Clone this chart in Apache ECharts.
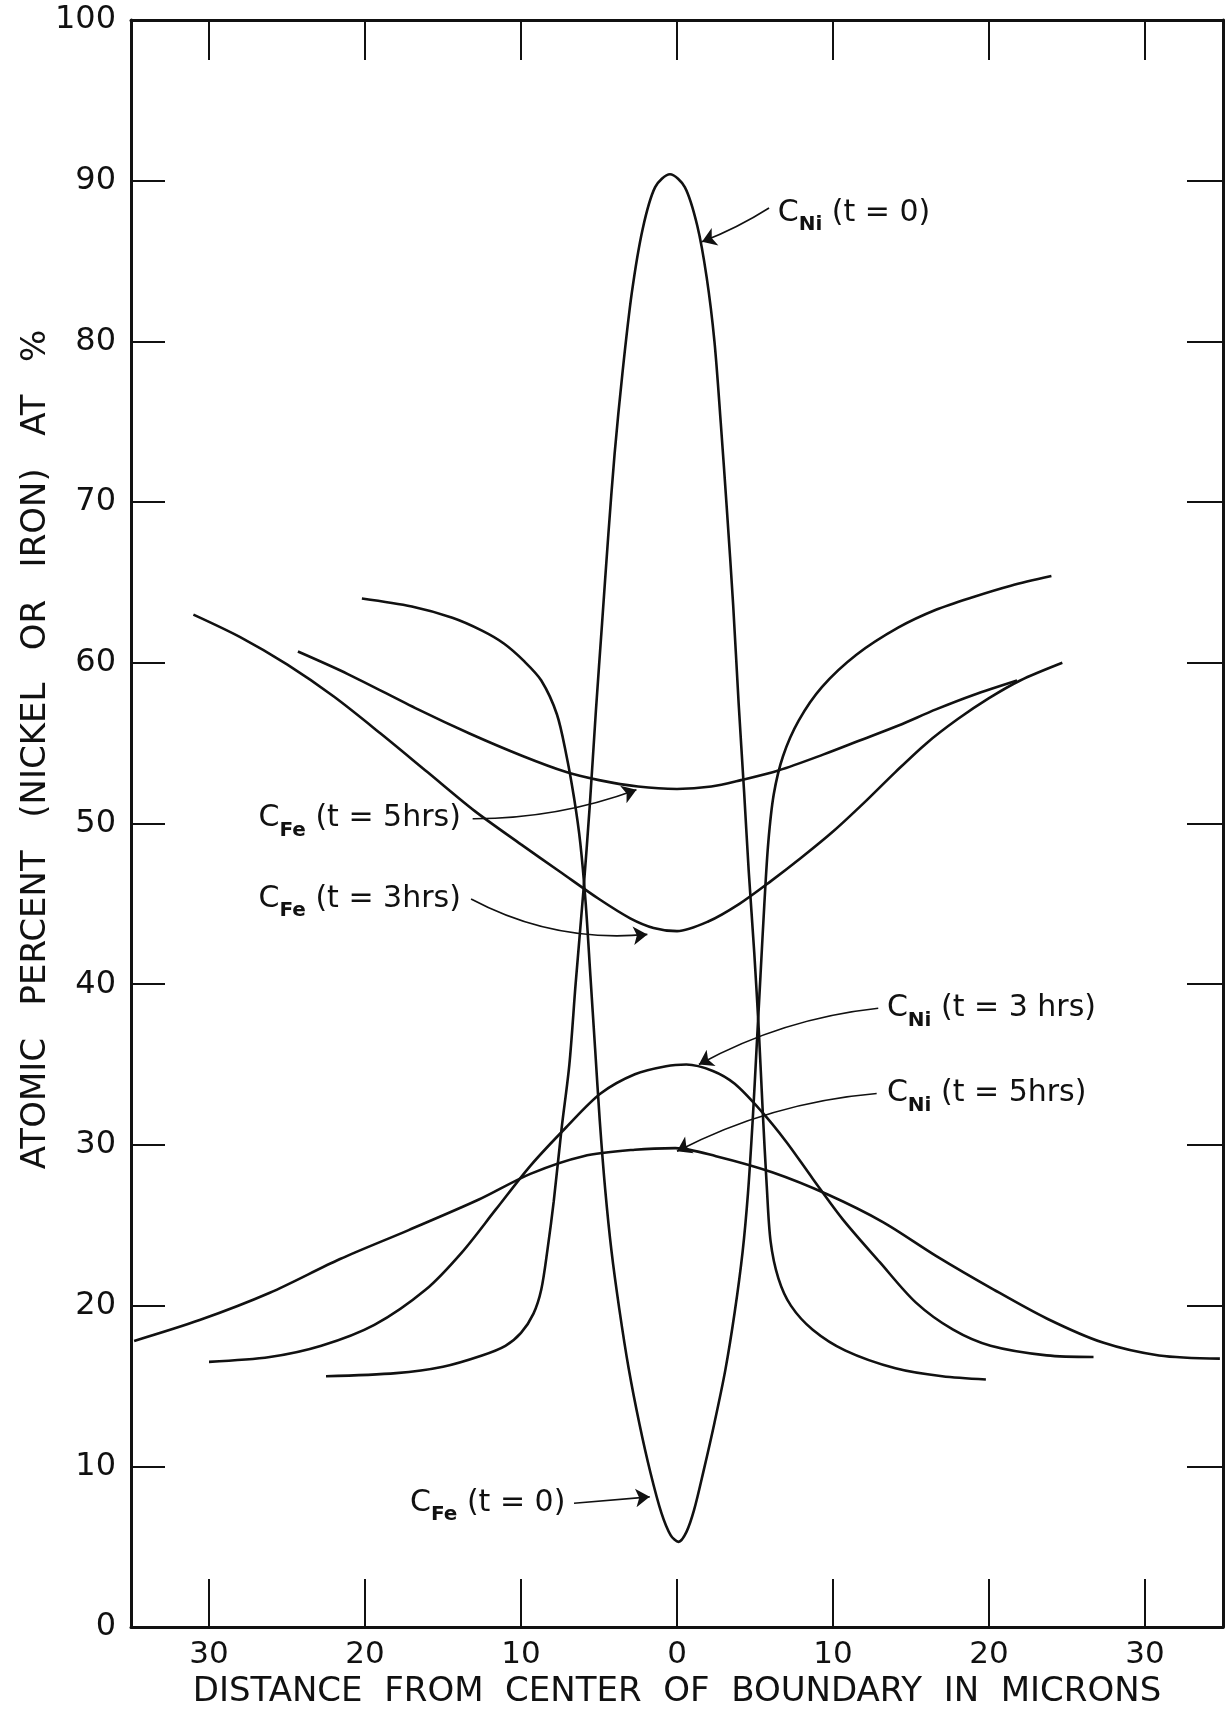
<!DOCTYPE html>
<html>
<head>
<meta charset="utf-8">
<script src="https://cdn.jsdelivr.net/npm/echarts@6/dist/echarts.min.js"></script>
<style>
  html, body { margin: 0; padding: 0; background: #fff; }
  #chart { width: 1225px; height: 1714px; }
</style>
</head>
<body>
<div id="chart"></div>
<script>
// concentration profiles, [distance in microns, atomic %]
var cNi0 = [[-22.5,15.6],[-18,15.8],[-15,16.2],[-12.5,16.9],[-11,17.5],[-10,18.3],[-9.2,19.5],[-8.7,21],[-8.3,23.5],[-7.9,26.5],[-7.4,31],[-6.9,35],[-6.5,40],[-6.0,45.8],[-5.6,51],[-5.2,57],[-4.8,62.5],[-4.4,68],[-4.0,73],[-3.5,78],[-2.9,83],[-2.2,87],[-1.4,89.6],[-0.45,90.4],[0.5,89.6],[1.3,87.2],[1.9,84],[2.4,80],[2.8,75],[3.2,69.5],[3.6,63.6],[3.95,57.5],[4.3,52],[4.6,47],[4.95,42],[5.25,37],[5.5,32],[5.75,27.5],[6.0,24],[6.5,21.7],[7.3,20.0],[8.7,18.5],[10.8,17.2],[14,16.1],[17,15.6],[19.8,15.4]];
var cFe0 = [[-20.2,64.0],[-17,63.5],[-14.4,62.8],[-12.5,62.0],[-11.1,61.2],[-9.8,60.1],[-8.7,58.9],[-7.7,56.8],[-7.1,54.3],[-6.6,51.6],[-6.2,48.8],[-5.85,45],[-5.55,40.5],[-5.25,36],[-4.95,31.5],[-4.6,27.2],[-4.2,23.4],[-3.7,19.8],[-3.1,16.1],[-2.4,12.6],[-1.7,9.6],[-1.0,7.1],[-0.4,5.7],[0.1,5.3],[0.6,5.9],[1.1,7.3],[1.7,9.7],[2.4,12.7],[3.1,16.0],[3.7,19.6],[4.2,23.3],[4.55,27],[4.85,31.5],[5.1,36],[5.35,40.5],[5.6,45],[5.85,48.8],[6.2,51.8],[6.8,54.2],[7.8,56.4],[9.3,58.5],[11.5,60.5],[14.2,62.2],[16.6,63.3],[19.0,64.1],[21.4,64.8],[24.0,65.4]];
var cFe3 = [[-31.0,63.0],[-28,61.6],[-25,59.9],[-22,57.9],[-19,55.6],[-16,53.2],[-13,50.8],[-10,48.7],[-7.5,47.0],[-5,45.3],[-3,44.1],[-1.5,43.5],[0,43.3],[2,43.9],[4,45.0],[6,46.4],[8,47.9],[10,49.5],[12,51.3],[14,53.2],[16,55.0],[18,56.5],[20,57.8],[22,58.9],[24.7,60.0]];
var cFe5 = [[-24.3,60.7],[-21.1,59.3],[-16.6,57.1],[-13.3,55.6],[-9.9,54.2],[-7.1,53.2],[-5.0,52.7],[-2.5,52.3],[0,52.15],[2.2,52.3],[4.1,52.7],[6.5,53.3],[9.4,54.3],[11.8,55.2],[14.2,56.1],[16.6,57.1],[19.0,58.0],[21.8,58.9]];
var cNi3 = [[-30.0,16.5],[-26.1,16.8],[-22.8,17.5],[-19.4,18.8],[-16.1,21.0],[-13.8,23.3],[-11.6,26.0],[-9.4,28.7],[-7.1,31.1],[-4.9,33.2],[-2.7,34.4],[-0.7,34.9],[0.6,35.0],[2.3,34.6],[3.7,33.8],[5.4,32.1],[7.0,30.2],[8.7,27.9],[10.6,25.4],[13.0,22.7],[15.3,20.2],[17.7,18.5],[20.1,17.5],[23.7,16.9],[26.7,16.8]];
var cNi5 = [[-34.8,17.8],[-30.6,19.1],[-26.1,20.8],[-21.6,22.9],[-17.2,24.7],[-12.7,26.6],[-9.4,28.2],[-6.0,29.3],[-2.7,29.7],[-0.1,29.8],[2.5,29.3],[6.1,28.3],[9.7,26.9],[13.2,25.2],[16.6,23.1],[20.3,21.0],[23.7,19.2],[27.3,17.7],[30.9,16.9],[34.8,16.7]];

var xTicks = [-30, -20, -10, 0, 10, 20, 30];

// label anchor, arrow start, arrow tip, arrow bend
var lblNi0 = {at: [6.2, 88.0], from: [5.9, 88.3], to: [1.6, 86.2], bend: 0.05, side: 'right', el: 'Ni', t: '(t = 0)'};
var lblFe5 = {at: [-13.6, 50.3], from: [-13.1, 50.3], to: [-2.6, 52.1], bend: -0.09, side: 'left', el: 'Fe', t: '(t = 5hrs)'};
var lblFe3 = {at: [-13.6, 45.3], from: [-13.2, 45.3], to: [-1.9, 43.1], bend: -0.15, side: 'left', el: 'Fe', t: '(t = 3hrs)'};
var lblNi3 = {at: [13.2, 38.5], from: [12.9, 38.5], to: [1.4, 35.0], bend: -0.1, side: 'right', el: 'Ni', t: '(t = 3 hrs)'};
var lblNi5 = {at: [13.2, 33.2], from: [12.8, 33.2], to: [0.0, 29.6], bend: -0.1, side: 'right', el: 'Ni', t: '(t = 5hrs)'};
var lblFe0 = {at: [-6.9, 7.7], from: [-6.6, 7.7], to: [-1.75, 8.1], bend: 0, side: 'left', el: 'Fe', t: '(t = 0)'};

var FONT = 'DejaVu Sans';
var INK = '#111';

var chart = echarts.init(document.getElementById('chart'), null, {renderer: 'canvas'});

function curve(name, data, lbl) {
    return {
        name: name,
        type: 'line',
        data: data,
        smooth: 0.3,
        showSymbol: false,
        symbol: 'none',
        silent: true,
        lineStyle: {color: INK, width: 2.6},
        markPoint: {
            silent: true,
            symbol: 'circle',
            symbolSize: 0,
            label: {
                show: true,
                position: lbl.side,
                distance: 4,
                formatter: '{c|C}{s|' + lbl.el + '}{c| ' + lbl.t + '}',
                rich: {
                    c: {fontFamily: FONT, fontSize: 30, color: INK, lineHeight: 44, verticalAlign: 'middle'},
                    s: {fontFamily: FONT, fontSize: 20, fontWeight: 'bold', color: INK, lineHeight: 20, verticalAlign: 'bottom'}
                }
            },
            data: [{coord: lbl.at}]
        }
    };
}

var labels = [lblNi0, lblFe5, lblFe3, lblNi3, lblNi5, lblFe0];
var arrows = [];
for (var i = 0; i < labels.length; i++) {
    arrows.push({
        coords: [labels[i].from, labels[i].to],
        lineStyle: {curveness: labels[i].bend}
    });
}

var option = {
    backgroundColor: '#fff',
    animation: false,
    grid: {left: 131, right: 2, top: 20, bottom: 83},
    xAxis: [{
        type: 'value',
        min: -35,
        max: 35,
        interval: 5,
        name: 'DISTANCE  FROM  CENTER  OF  BOUNDARY  IN  MICRONS',
        nameLocation: 'middle',
        nameGap: 48,
        nameTextStyle: {fontFamily: FONT, fontSize: 34, color: INK},
        axisLine: {onZero: false, lineStyle: {color: INK, width: 3}},
        axisTick: {inside: true, length: 48, lineStyle: {color: INK, width: 2}, customValues: xTicks},
        axisLabel: {
            fontFamily: FONT, fontSize: 31, color: INK, margin: 12,
            customValues: xTicks,
            formatter: function (v) { return v % 10 === 0 ? String(Math.abs(v)) : ''; }
        },
        splitLine: {show: false}
    }, {
        type: 'value',
        position: 'top',
        min: -35,
        max: 35,
        interval: 5,
        axisLine: {onZero: false, lineStyle: {color: INK, width: 3}},
        axisTick: {inside: true, length: 40, lineStyle: {color: INK, width: 2}, customValues: xTicks},
        axisLabel: {show: false},
        splitLine: {show: false}
    }],
    yAxis: [{
        type: 'value',
        min: 0,
        max: 100,
        interval: 10,
        name: 'ATOMIC   PERCENT   (NICKEL   OR   IRON)   AT   %',
        nameLocation: 'middle',
        nameRotate: 90,
        nameGap: 78,
        nameMoveOverlap: false,
        nameTextStyle: {fontFamily: FONT, fontSize: 34, color: INK, padding: [0, 0, 0, 148]},
        axisLine: {onZero: false, lineStyle: {color: INK, width: 3}},
        axisTick: {inside: true, length: 34, lineStyle: {color: INK, width: 2}},
        axisLabel: {fontFamily: FONT, fontSize: 32, color: INK, margin: 15},
        splitLine: {show: false}
    }, {
        type: 'value',
        position: 'right',
        min: 0,
        max: 100,
        interval: 10,
        axisLine: {onZero: false, lineStyle: {color: INK, width: 3}},
        axisTick: {inside: true, length: 36, lineStyle: {color: INK, width: 2}},
        axisLabel: {show: false},
        splitLine: {show: false}
    }],
    series: [
        curve('C_Ni t=0', cNi0, lblNi0),
        curve('C_Fe t=0', cFe0, lblFe0),
        curve('C_Fe t=3hrs', cFe3, lblFe3),
        curve('C_Fe t=5hrs', cFe5, lblFe5),
        curve('C_Ni t=3hrs', cNi3, lblNi3),
        curve('C_Ni t=5hrs', cNi5, lblNi5),
        {
            name: 'arrows',
            type: 'lines',
            coordinateSystem: 'cartesian2d',
            silent: true,
            symbol: ['none', 'arrow'],
            symbolSize: 14,
            lineStyle: {color: INK, width: 1.6, opacity: 1},
            itemStyle: {color: INK},
            data: arrows
        }
    ]
};

chart.setOption(option);
window.onresize = chart.resize;
</script>
</body>
</html>
